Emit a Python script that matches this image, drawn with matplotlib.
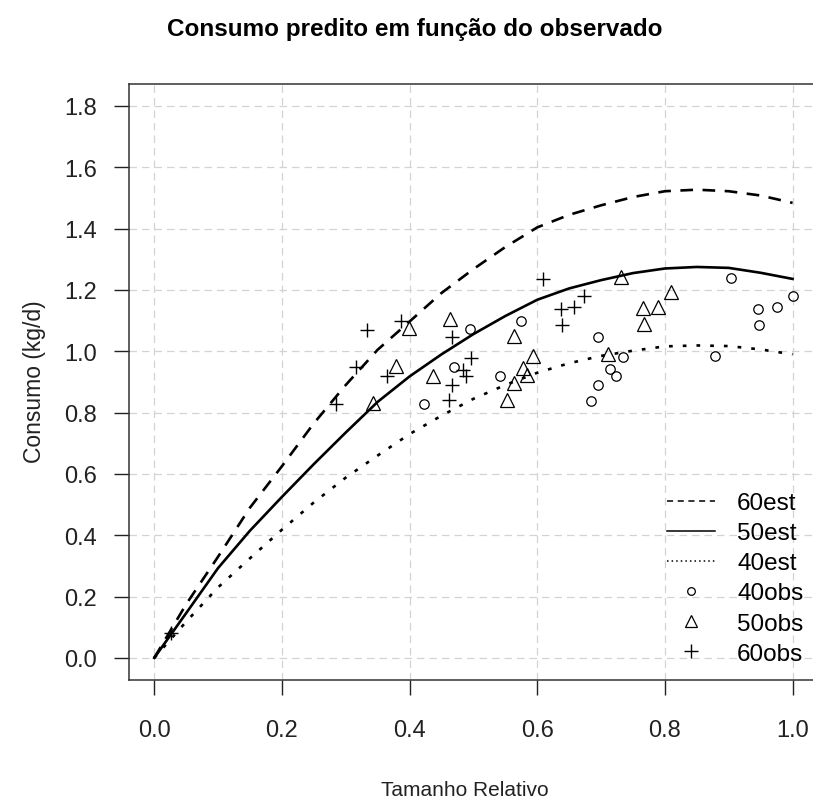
import matplotlib
matplotlib.use("Agg")
import matplotlib.pyplot as plt
from matplotlib.lines import Line2D

plt.rcParams['font.family'] = ['Liberation Sans', 'DejaVu Sans']

# curvas estimadas
xCurve = [0.0, 0.05, 0.10, 0.15, 0.20, 0.25, 0.30, 0.35, 0.40, 0.45, 0.50,
          0.55, 0.60, 0.65, 0.70, 0.75, 0.80, 0.85, 0.90, 0.95, 1.00]
est60 = [0.0, 0.175, 0.33, 0.49, 0.625, 0.765, 0.89, 1.005, 1.097, 1.19, 1.268,
         1.34, 1.404, 1.445, 1.476, 1.503, 1.522, 1.527, 1.522, 1.508, 1.484]
est50 = [0.0, 0.146, 0.293, 0.415, 0.525, 0.632, 0.735, 0.835, 0.918, 0.99, 1.056,
         1.115, 1.168, 1.205, 1.232, 1.255, 1.27, 1.275, 1.272, 1.256, 1.236]
est40 = [0.0, 0.118, 0.23, 0.325, 0.418, 0.507, 0.588, 0.66, 0.73, 0.79, 0.845,
         0.89, 0.93, 0.961, 0.985, 1.002, 1.016, 1.019, 1.017, 1.006, 0.99]

# observados
obs40x = [0.423, 0.470, 0.495, 0.542, 0.574, 0.684, 0.695, 0.695, 0.714, 0.723,
          0.734, 0.878, 0.904, 0.946, 0.948, 0.976, 1.001]
obs40y = [0.829, 0.949, 1.073, 0.918, 1.100, 0.837, 0.891, 1.047, 0.942, 0.921,
          0.980, 0.983, 1.239, 1.139, 1.087, 1.144, 1.181]
obs50x = [0.342, 0.378, 0.399, 0.437, 0.464, 0.553, 0.563, 0.563, 0.577, 0.584,
          0.593, 0.711, 0.731, 0.765, 0.767, 0.789, 0.809]
obs50y = [0.831, 0.953, 1.076, 0.920, 1.105, 0.842, 1.051, 0.897, 0.946, 0.924,
          0.983, 0.992, 1.242, 1.141, 1.090, 1.146, 1.192]
obs60x = [0.026, 0.284, 0.316, 0.333, 0.365, 0.386, 0.462, 0.467, 0.467, 0.483,
          0.489, 0.496, 0.609, 0.637, 0.639, 0.657, 0.673]
obs60y = [0.082, 0.829, 0.948, 1.070, 0.918, 1.098, 0.840, 0.891, 1.045, 0.940,
          0.920, 0.978, 1.236, 1.138, 1.087, 1.146, 1.179]

xTicks = [0.0, 0.2, 0.4, 0.6, 0.8, 1.0]
yTicks = [0.0, 0.2, 0.4, 0.6, 0.8, 1.0, 1.2, 1.4, 1.6, 1.8]

fig = plt.figure(figsize=(8.13, 8.04), dpi=100)
# a caixa do grafico passa da borda direita da figura (como no original)
ax = fig.add_axes([0.1583, 0.153, 0.8774, 0.7414])

for t in xTicks:
    ax.axvline(t, color='#d3d3d3', lw=0.9, ls=(0, (6, 4)), zorder=0)
for t in yTicks:
    ax.axhline(t, color='#d3d3d3', lw=0.9, ls=(0, (6, 4)), zorder=0)

ax.plot(xCurve, est60, color='black', lw=1.9, ls=(0, (4.8, 3.6)))
ax.plot(xCurve, est50, color='black', lw=1.9, ls='-')
ax.plot(xCurve, est40, color='black', lw=1.9, ls=(0, (1.4, 3.8)))

ax.plot(obs40x, obs40y, ls='none', marker='o', ms=6.8, mfc='none', mec='black', mew=0.9)
ax.plot(obs50x, obs50y, ls='none', marker='^', ms=9.8, mfc='none', mec='black', mew=0.9)
ax.plot(obs60x, obs60y, ls='none', marker='+', ms=10.5, mec='black', mew=1.0)

ax.set_xlim(-0.04, 1.0775)
ax.set_ylim(-0.072, 1.872)
ax.set_xticks(xTicks)
ax.set_yticks(yTicks)
ax.set_xticklabels(['%.1f' % t for t in xTicks])
ax.set_yticklabels(['%.1f' % t for t in yTicks])
ax.tick_params(direction='out', length=10.8, width=1.0, labelsize=17,
               colors='#222222')
ax.tick_params(axis='x', pad=17)
ax.tick_params(axis='y', pad=12)
for s in ax.spines.values():
    s.set_color('#333333')
    s.set_linewidth(1.1)
ax.spines['right'].set_visible(False)

handles = [
    Line2D([], [], color='black', lw=1.1, ls=(0, (4, 3))),
    Line2D([], [], color='black', lw=1.1, ls='-'),
    Line2D([], [], color='black', lw=1.1, ls=(0, (1, 2))),
    Line2D([], [], ls='none', marker='o', ms=5.5, mfc='none', mec='black', mew=0.9),
    Line2D([], [], ls='none', marker='^', ms=9, mfc='none', mec='black', mew=0.9),
    Line2D([], [], ls='none', marker='+', ms=10, mec='black', mew=1.0),
]
labels = ['60est', '50est', '40est', '40obs', '50obs', '60obs']
fig.legend(handles, labels, loc='upper left', bbox_to_anchor=(667 / 813, 1 - 493 / 804),
           bbox_transform=fig.transFigure, frameon=False, fontsize=17.5,
           handlelength=1.98, handletextpad=0.9, labelspacing=0.335, borderpad=0,
           borderaxespad=0)

fig.text(415 / 813, 1 - 36 / 804, 'Consumo predito em função do observado',
         ha='center', va='baseline', fontsize=17.5, fontweight='bold')
fig.text(465 / 813, 1 - 796 / 804, 'Tamanho Relativo', ha='center', va='baseline',
         fontsize=15, color='#222222')
fig.text(35 / 813, 1 - 382 / 804, 'Consumo (kg/d)', ha='center', va='center',
         rotation=90, fontsize=16.5, color='#222222')

fig.savefig('out.png', dpi=100)
